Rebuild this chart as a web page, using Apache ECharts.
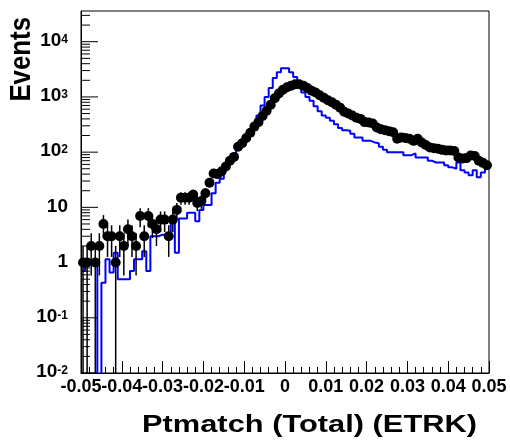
<!DOCTYPE html>
<html><head><meta charset="utf-8">
<script src="https://cdn.jsdelivr.net/npm/echarts@6/dist/echarts.min.js"></script>
<style>html,body{margin:0;padding:0;background:#fff}#c{width:510px;height:440px}</style>
</head><body><div id="c"></div>
<script>
// ---- binning / axis ranges ----
const xMin = -0.05, xMax = 0.05, binWidth = 0.001;
const yMin = 0.01, yMax = 36000;
// ---- tick labels ----
const xTickValues = [-0.05,-0.04,-0.03,-0.02,-0.01,0,0.01,0.02,0.03,0.04,0.05];
const xTickLabels = ['-0.05','-0.04','-0.03','-0.02','-0.01','0','0.01','0.02','0.03','0.04','0.05'];
const yDecades = [-2,-1,0,1,2,3,4];
// ---- titles ----
const xTitle = 'Ptmatch (Total) (ETRK)';
const yTitle = 'Events';
// ---- data (black points), one value per bin ----
const dataCounts = [
 1,1,2,1,2,5,3,3,1,3,
 2,4,3,2,7,3,7,5,4,6,
 6,3,6,9,15,15,15,17,12,13,
 18,28,41,40,45,55,70,82,125,145,
 180,225,290,350,450,560,720,950,1150,1350,
 1500,1600,1700,1700,1600,1450,1300,1200,1070,970,
 870,800,720,640,540,500,460,420,400,350,
 345,330,280,260,250,240,230,175,185,180,
 175,160,175,150,135,122,118,115,110,107,
 107,105,80,77,78,87,85,70,64,58];
// ---- simulation (blue histogram), one value per bin ----
const mcCounts = [
 0.7,1,1,1,0,0.43,1.15,0.66,1.5,0.5,
 0.5,0.5,0.7,1.15,1.15,1.6,0.7,3,3,3.2,
 3.2,3.2,5.6,1.5,6.3,6.3,8,8,5.6,9,
 11,11,18,28,33,50,68,87,117,145,
 180,218,300,460,700,1000,1450,2200,2800,3300,
 3300,2800,2300,1700,1200,1000,850,680,550,460,
 420,370,320,275,250,245,215,185,185,160,
 160,150,145,125,110,100,100,100,100,88,
 88,95,80,80,80,70,65,65,65,58,
 53,50,65,47,43,38,47,35,43,50];

const FONT = '"Liberation Sans", Arial, Helvetica, sans-serif';
const nBins = mcCounts.length;

const mcLine = [];
for (let i = 0; i < nBins; i++) {
  const v = mcCounts[i] > 0 ? mcCounts[i] : 1e-5;
  mcLine.push([xMin + i * binWidth, v]);
}
mcLine.push([xMax, mcCounts[nBins - 1]]);

const points = [], errs = [];
for (let i = 0; i < nBins; i++) {
  const v = dataCounts[i];
  if (!(v > 0)) continue;
  const xc = xMin + (i + 0.5) * binWidth;
  const e = Math.sqrt(v);
  points.push([xc, v]);
  errs.push([xc, Math.max(v - e, yMin), v + e]);
}
const xLabelData = xTickValues.map(function (v) { return [v, yMin]; });

function yLabel(v) {
  const e = Math.log10(v), k = Math.round(e);
  if (Math.abs(e - k) > 1e-6 || yDecades.indexOf(k) < 0) return '';
  if (k === 0) return '{b|1}';
  if (k === 1) return '{b|10}';
  return '{b|10}{s|' + k + '}';
}

const chart = echarts.init(document.getElementById('c'), null, {renderer: 'canvas'});
chart.setOption({
  animation: false,
  backgroundColor: '#fff',
  grid: {left: 81, right: 21, top: 11, bottom: 67, show: true, borderColor: '#000', borderWidth: 1, containLabel: false, outerBoundsMode: 'none'},
  xAxis: {
    type: 'value', min: xMin, max: xMax, interval: 0.01,
    axisLine: {show: true, onZero: false, lineStyle: {color: '#000', width: 1}},
    axisTick: {show: true, inside: true, length: 12, lineStyle: {color: '#000', width: 1}},
    minorTick: {show: true, splitNumber: 5, length: 6, lineStyle: {color: '#000', width: 1}},
    splitLine: {show: false},
    axisLabel: {show: false}
  },
  yAxis: {
    type: 'log', logBase: 10, min: yMin, max: yMax,
    axisLine: {show: true, onZero: false, lineStyle: {color: '#000', width: 1}},
    axisTick: {show: false},
    splitLine: {show: false},
    axisLabel: {show: true, margin: 13, formatter: yLabel, showMinLabel: true, showMaxLabel: true,
      rich: {
        b: {fontFamily: FONT, fontWeight: 'bold', fontSize: 19, color: '#000', lineHeight: 17, verticalAlign: 'bottom'},
        s: {fontFamily: FONT, fontWeight: 'bold', fontSize: 12, color: '#000', lineHeight: 12, verticalAlign: 'top', padding: [0, 0, 13, 0]}
      }}
  },
  graphic: [
    {type: 'text', x: 477, y: 426, scaleX: 1.34, silent: true,
      style: {text: xTitle, font: 'bold 23px ' + FONT, fill: '#000', align: 'right', verticalAlign: 'middle'}},
    {type: 'text', x: 22, y: 17, rotation: Math.PI / 2, scaleX: 0.86, silent: true,
      style: {text: yTitle, font: 'bold 30px ' + FONT, fill: '#000', align: 'right', verticalAlign: 'middle'}}
  ],
  series: [
    {
      type: 'custom', name: 'xlabels', silent: true, z: 6, clip: false,
      data: xLabelData,
      renderItem: function (params, api) {
        const p = api.coord([api.value(0), api.value(1)]);
        return {type: 'text', x: p[0], y: p[1] + 5,
          style: {text: xTickLabels[params.dataIndex], font: 'bold 18px ' + FONT, fill: '#000', align: 'center', verticalAlign: 'top'}};
      }
    },
    {
      type: 'custom', name: 'yticks', silent: true, z: 5,
      data: [[0, 1]],
      renderItem: function (params, api) {
        const children = [];
        for (let d = 0; d < yDecades.length; d++) {
          const k = yDecades[d];
          const p = api.coord([xMin, Math.pow(10, k)]);
          children.push({type: 'line', shape: {x1: p[0], y1: p[1], x2: p[0] + 17, y2: p[1]}, style: {stroke: '#000', lineWidth: 1}});
          for (let m = 2; m <= 9; m++) {
            const v = m * Math.pow(10, k);
            if (v > yMax) break;
            const q = api.coord([xMin, v]);
            children.push({type: 'line', shape: {x1: q[0], y1: q[1], x2: q[0] + 9, y2: q[1]}, style: {stroke: '#000', lineWidth: 1}});
          }
        }
        return {type: 'group', children: children};
      }
    },
    {
      type: 'line', name: 'MC', data: mcLine, step: 'end', showSymbol: false, symbol: 'none',
      clip: true, z: 2,
      lineStyle: {color: '#0000ff', width: 2}
    },
    {
      type: 'custom', name: 'errors', data: errs, z: 3, silent: true,
      encode: {x: 0, y: [1, 2]},
      renderItem: function (params, api) {
        const a = api.coord([api.value(0), api.value(1)]);
        const b = api.coord([api.value(0), api.value(2)]);
        return {type: 'line', shape: {x1: a[0], y1: a[1], x2: b[0], y2: b[1]}, style: {stroke: '#000', lineWidth: 1.5}};
      }
    },
    {
      type: 'scatter', name: 'Data', data: points, symbol: 'circle', symbolSize: 10, z: 4,
      itemStyle: {color: '#000', opacity: 1}
    }
  ]
});
</script></body></html>
